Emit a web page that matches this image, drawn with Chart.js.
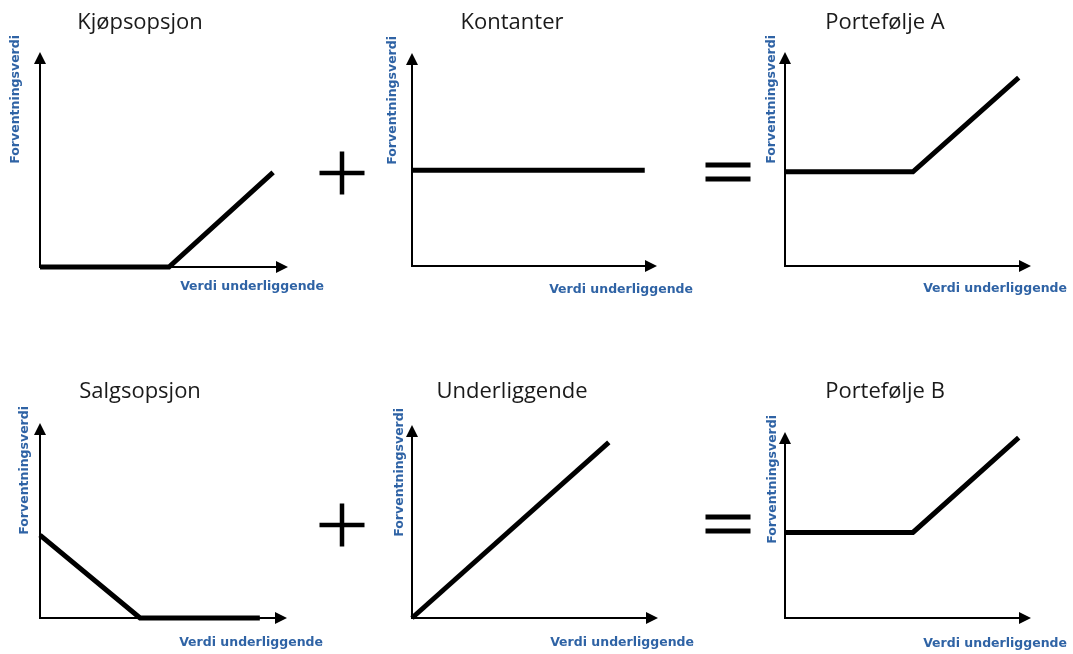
<!DOCTYPE html>
<html>
<head>
<meta charset="utf-8">
<script src="https://cdn.jsdelivr.net/npm/chart.js@4.4.1/dist/chart.umd.min.js"></script>
<style>
  html, body { margin: 0; padding: 0; background: #fff; }
  body { width: 1073px; height: 654px; position: relative; overflow: hidden; }
  canvas { position: absolute; }
</style>
</head>
<body>
<script>
// payoff diagrams, every panel uses a 0-100 scale on both axes
const titles = ['Kjøpsopsjon', 'Kontanter', 'Portefølje A', 'Salgsopsjon', 'Underliggende', 'Portefølje B'];
const yLabel = 'Forventningsverdi';
const xLabel = 'Verdi underliggende';
const operators = ['', '+', '=', '', '+', '='];

const callX = [0, 52, 94];
const callY = [0, 0, 44];
const cashX = [0, 95];
const cashY = [45, 45];
const portAX = [0, 52, 95];
const portAY = [44, 44, 88];
const putX = [0, 40.5, 89];
const putY = [42.5, 0, 0];
const underX = [0, 80];
const underY = [0, 91];
const portBX = [0, 52, 95];
const portBY = [46, 46, 97];

const seriesX = [callX, cashX, portAX, putX, underX, portBX];
const seriesY = [callY, cashY, portAY, putY, underY, portBY];

// axis origin (x0,y0) and arrow tips (x1,y1) in page pixels
const layout = [
  { x0: 40,  y0: 267, x1: 288,  y1: 52,  title: 29,  ly: -24, lx: 20 },
  { x0: 412, y0: 266, x1: 657,  y1: 53,  title: 29,  ly: -19, lx: 24 },
  { x0: 785, y0: 266, x1: 1031, y1: 52,  title: 29,  ly: -13, lx: 23 },
  { x0: 40,  y0: 618, x1: 287,  y1: 423, title: 398, ly: -15, lx: 25 },
  { x0: 412, y0: 618, x1: 658,  y1: 425, title: 398, ly: -12, lx: 25 },
  { x0: 785, y0: 618, x1: 1031, y1: 432, title: 398, ly: -12, lx: 26 }
];
const PAD = { left: 100, top: 55, right: 50, bottom: 40 };
const LABEL_BLUE = '#2f63a5';

const payoffFrame = {
  id: 'payoffFrame',
  beforeDatasetsDraw(chart, args, opts) {
    const { ctx, chartArea: a } = chart;
    ctx.save();

    // axes with arrow heads
    ctx.strokeStyle = '#000';
    ctx.fillStyle = '#000';
    ctx.lineWidth = 2;
    ctx.beginPath();
    ctx.moveTo(a.left, a.top + 8);
    ctx.lineTo(a.left, a.bottom);
    ctx.lineTo(a.right - 8, a.bottom);
    ctx.stroke();
    ctx.beginPath();
    ctx.moveTo(a.left, a.top);
    ctx.lineTo(a.left - 6, a.top + 12);
    ctx.lineTo(a.left + 6, a.top + 12);
    ctx.closePath();
    ctx.fill();
    ctx.beginPath();
    ctx.moveTo(a.right, a.bottom);
    ctx.lineTo(a.right - 12, a.bottom - 6);
    ctx.lineTo(a.right - 12, a.bottom + 6);
    ctx.closePath();
    ctx.fill();

    // title
    ctx.fillStyle = '#1a1a1a';
    ctx.font = '22px "Open Sans"';
    ctx.textAlign = 'center';
    ctx.textBaseline = 'alphabetic';
    ctx.fillText(opts.title, a.left + 100, opts.titleY);

    // axis labels
    ctx.fillStyle = LABEL_BLUE;
    ctx.font = 'bold 12.5px "DejaVu Sans"';
    ctx.textAlign = 'right';
    ctx.textBaseline = 'middle';
    ctx.fillText(xLabel, a.right + 36, a.bottom + opts.lx);
    ctx.save();
    ctx.translate(a.left + opts.ly, a.top - 17);
    ctx.rotate(-Math.PI / 2);
    ctx.fillText(yLabel, 0, 0);
    ctx.restore();

    // + / = sign in front of the panel
    ctx.fillStyle = '#000';
    if (opts.op === '+') {
      const cx = a.left - 70, cy = a.bottom - 93;
      ctx.fillRect(cx - 22.5, cy - 2.25, 45, 4.5);
      ctx.fillRect(cx - 2.25, cy - 21.5, 4.5, 43);
    } else if (opts.op === '=') {
      const cx = a.left - 57, cy = a.bottom - 94;
      ctx.fillRect(cx - 22.5, cy - 9.5, 45, 5);
      ctx.fillRect(cx - 22.5, cy + 4.5, 45, 5);
    }
    ctx.restore();
  }
};

titles.forEach((title, i) => {
  const g = layout[i];
  const canvas = document.createElement('canvas');
  const w = g.x1 - g.x0 + PAD.left + PAD.right;
  const h = g.y0 - g.y1 + PAD.top + PAD.bottom;
  const top = g.y1 - PAD.top;
  canvas.width = w;
  canvas.height = h;
  canvas.style.left = (g.x0 - PAD.left) + 'px';
  canvas.style.top = top + 'px';
  canvas.style.width = w + 'px';
  canvas.style.height = h + 'px';
  document.body.appendChild(canvas);

  new Chart(canvas.getContext('2d'), {
    type: 'line',
    data: {
      datasets: [{
        label: title,
        data: seriesX[i].map((x, k) => ({ x, y: seriesY[i][k] })),
        borderColor: '#000',
        borderWidth: 5,
        borderJoinStyle: 'miter',
        borderCapStyle: 'butt',
        pointRadius: 0,
        tension: 0,
        clip: false
      }]
    },
    options: {
      responsive: false,
      animation: false,
      devicePixelRatio: 1,
      layout: { padding: PAD },
      scales: {
        x: { type: 'linear', min: 0, max: 100, display: false },
        y: { type: 'linear', min: 0, max: 100, display: false }
      },
      plugins: {
        legend: { display: false },
        tooltip: { enabled: false },
        payoffFrame: { title, titleY: g.title - top, ly: g.ly, lx: g.lx, op: operators[i] }
      }
    },
    plugins: [payoffFrame]
  });
});
</script>
</body>
</html>
